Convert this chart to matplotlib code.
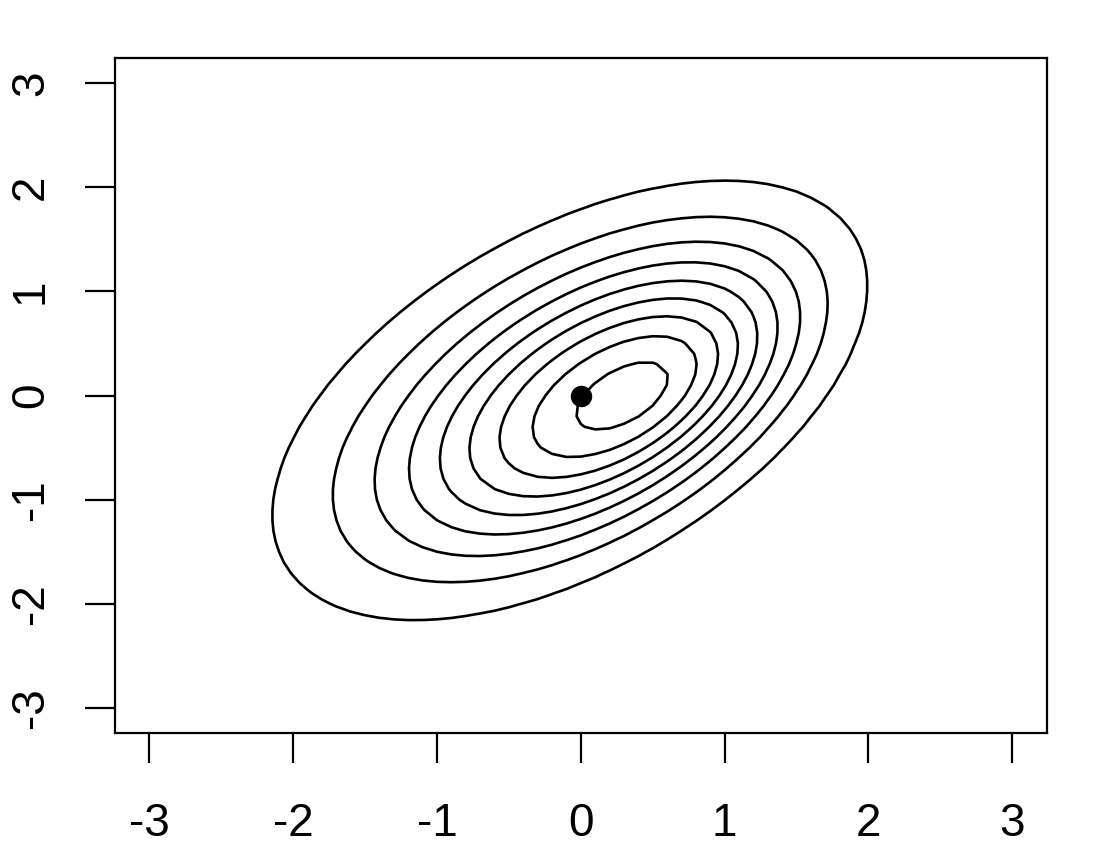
import numpy as np
import matplotlib
matplotlib.use("Agg")
import matplotlib.pyplot as plt

# Contour crossings; level 1 = outermost ... 9 = innermost.
cross_x = [-1.851, -1.448, -1.183, -0.961, -0.780, -0.592, -0.404, -0.258, -0.097,
           0.522, 0.701, 0.840, 0.967, 1.107, 1.230, 1.362, 1.501, 1.728,
           0, 0, 0, 0, 0, 0, 0, 0, 0,
           0, 0, 0, 0, 0, 0, 0, 0, 0,
           -2.28, 1.1, 1.88, -0.9, 0.596, 0.487, 0.093,
           -0.970, -0.543, -0.261, -0.015, 0.258, 1.138, 1.281, 1.471, 1.668, 1.925, 0.67,
           -2.255, -1.752, -1.385, -1.06, -0.673, -0.3, -0.2]
cross_y = [0, 0, 0, 0, 0, 0, 0, 0, -0.19,
           0, 0, 0, 0, 0, 0, 0, 0, 0,
           0.329, 0.502, 0.672, 0.848, 1.024, 1.216, 1.430, 1.783, 0.09,
           -0.352, -0.592, -0.758, -0.902, -1.049, -1.200, -1.360, -1.558, -1.833,
           -1.05, 2.27, 1.0, -1.98, 0.176, 0.37, -0.37,
           1, 1, 1, 1, 1, 1, 1, 1, 1, 1, 0.99,
           -1, -1, -1, -1, -1, -1.10, -0.93]
cross_level = [1, 2, 3, 4, 5, 6, 7, 8, 9,
               9, 8, 7, 6, 5, 4, 3, 2, 1,
               8, 7, 6, 5, 4, 3, 2, 1, 9,
               9, 8, 7, 6, 5, 4, 3, 2, 1,
               1, 1, 1, 1, 9, 9, 9,
               1, 2, 3, 4, 5, 5, 4, 3, 2, 1, 6,
               1, 2, 3, 4, 5, 5, 6]

levels = [1, 2, 3, 4, 5, 6, 7, 8, 9]
peak = 9.5            # density peak in units of the contour step
point_x, point_y = [0.0], [0.0]
ticks = [-3, -2, -1, 0, 1, 2, 3]

# shape guess: centre, drift of centre, scales, correlation
shape_guess = [0.333, -0.087, -0.251, 0.112, 1.0, 1.03, 0.5]

CX, CY, CL = np.array(cross_x), np.array(cross_y), np.array(cross_level, float)


def radius(X, Y, p):
    """Radius r of the ellipse (centre m + d*r, scales s, corr rho) passing through (X, Y)."""
    m1, m2, d1, d2, s1, s2, rho = p[:7]
    w1 = (np.asarray(X) - m1) / s1
    w2 = (np.asarray(Y) - m2) / s2
    e1, e2 = d1 / s1, d2 / s2
    k = 1.0 / (1 - rho ** 2)
    bww = k * (w1 ** 2 - 2 * rho * w1 * w2 + w2 ** 2)
    bdw = k * (e1 * w1 - rho * (e1 * w2 + e2 * w1) + e2 * w2)
    bdd = k * (e1 ** 2 - 2 * rho * e1 * e2 + e2 ** 2)
    a = 1 - bdd
    return (-bdw + np.sqrt(bdw ** 2 + a * bww)) / a


RT = np.sqrt(2 * np.log(peak / CL))


def misfit(p):
    if not 0.5 < p[4] < 2 or not 0.5 < p[5] < 2 or abs(p[6]) > 0.9:
        return 1e9
    e1, e2 = p[2] / p[4], p[3] / p[5]
    if (e1 ** 2 - 2 * p[6] * e1 * e2 + e2 ** 2) / (1 - p[6] ** 2) > 0.6:
        return 1e9
    return np.sum((radius(CX, CY, p) - RT) ** 2)


def nelder_mead(f, x0, step, iters):
    n = len(x0)
    sim = [np.array(x0, float)]
    for i in range(n):
        v = np.array(x0, float)
        v[i] += step
        sim.append(v)
    fs = [f(s) for s in sim]
    for _ in range(iters):
        order = np.argsort(fs)
        sim = [sim[i] for i in order]
        fs = [fs[i] for i in order]
        c = np.mean(sim[:-1], axis=0)
        xr = 2 * c - sim[-1]
        fr = f(xr)
        if fr < fs[0]:
            xe = 3 * c - 2 * sim[-1]
            fe = f(xe)
            sim[-1], fs[-1] = (xe, fe) if fe < fr else (xr, fr)
        elif fr < fs[-2]:
            sim[-1], fs[-1] = xr, fr
        else:
            xc = 0.5 * (c + sim[-1])
            fc = f(xc)
            if fc < fs[-1]:
                sim[-1], fs[-1] = xc, fc
            else:
                for i in range(1, n + 1):
                    sim[i] = 0.5 * (sim[0] + sim[i])
                    fs[i] = f(sim[i])
    i = int(np.argmin(fs))
    return sim[i], fs[i]


# refine the guess against the read crossings; keep the guess if anything looks off
p, fv = nelder_mead(misfit, shape_guess, 0.05, 2500)
p, fv = nelder_mead(misfit, p, 0.02, 1500)
if not (fv < misfit(shape_guess) and abs(p[0]) < 1.2 and abs(p[1]) < 1.2
        and abs(p[2]) < 0.8 and abs(p[3]) < 0.8):
    p = np.array(shape_guess)

grid = np.linspace(-3, 3, 61)
GX, GY = np.meshgrid(grid, grid)
Z = peak * np.exp(-radius(GX, GY, p) ** 2 / 2)

plt.rcParams["font.family"] = ["Liberation Sans", "DejaVu Sans"]
plt.rcParams["axes.unicode_minus"] = False

fig = plt.figure(figsize=(11.04, 8.49), dpi=100)
ax = fig.add_axes([0.104, 0.1366, 0.8442, 0.7951])
ax.contour(GX, GY, Z, levels=levels, colors="black", linewidths=1.9)
ax.plot(point_x, point_y, "o", color="black", ms=14.4)
ax.set_xlim(-3.24, 3.24)
ax.set_ylim(-3.24, 3.24)
ax.set_xticks(ticks)
ax.set_yticks(ticks)
for s in ax.spines.values():
    s.set_linewidth(1.6)
ax.tick_params(length=21.6, width=1.6, labelsize=33)
ax.tick_params(axis="x", pad=28)
ax.tick_params(axis="y", pad=23)
plt.setp(ax.get_yticklabels(), rotation=90, va="center")
fig.savefig("out.png", dpi=100)
